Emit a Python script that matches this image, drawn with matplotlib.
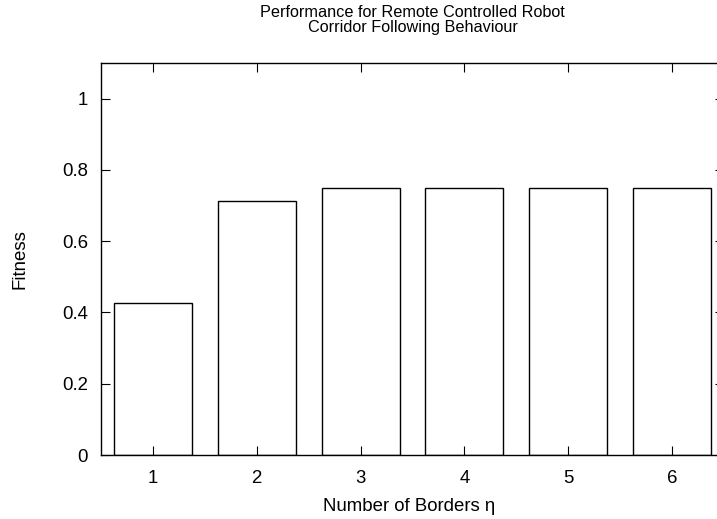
import numpy as np
import matplotlib.pyplot as plt

plt.rcParams['font.family'] = ['Liberation Sans', 'DejaVu Sans']
plt.rcParams['font.size'] = 13.4

borders = [1, 2, 3, 4, 5, 6]
fitness = [0.427, 0.714, 0.75, 0.75, 0.75, 0.75]
yticks = [0, 0.2, 0.4, 0.6, 0.8, 1]
ytick_labels = ['0', '0.2', '0.4', '0.6', '0.8', '1']

fig = plt.figure(figsize=(7.17, 5.19), dpi=100)
# right edge runs past the figure, like the original gnuplot output
ax = fig.add_axes([101 / 717, 64 / 519, 623 / 717, 392 / 519])

ax.bar(borders, fitness, width=0.75, color='white', edgecolor='black', linewidth=1.0)

ax.set_xlim(0.5, 6.5)
ax.set_ylim(0, 1.1)
ax.set_xticks(borders)
ax.set_yticks(yticks)
ax.set_yticklabels(ytick_labels)
ax.tick_params(direction='in', length=6.5, width=0.8, top=True, right=True,
               labelsize=13.4)
ax.tick_params(axis='x', pad=11)
ax.tick_params(axis='y', pad=9.4)
for s in ax.spines.values():
    s.set_linewidth(1.0)

ax.set_xlabel('Number of Borders η')
ax.xaxis.set_label_coords(0.495, -0.11)
ax.set_ylabel('Fitness')
ax.yaxis.set_label_coords(-0.1156, 0.5)

# two-line title, one text per line
cx = 412.5 / 717
fig.text(cx, 1 - 17 / 519, 'Performance for Remote Controlled Robot',
         ha='center', va='baseline', fontsize=11.7)
fig.text(cx, 1 - 32 / 519, 'Corridor Following Behaviour',
         ha='center', va='baseline', fontsize=11.7)

fig.savefig('out.png', dpi=100)
